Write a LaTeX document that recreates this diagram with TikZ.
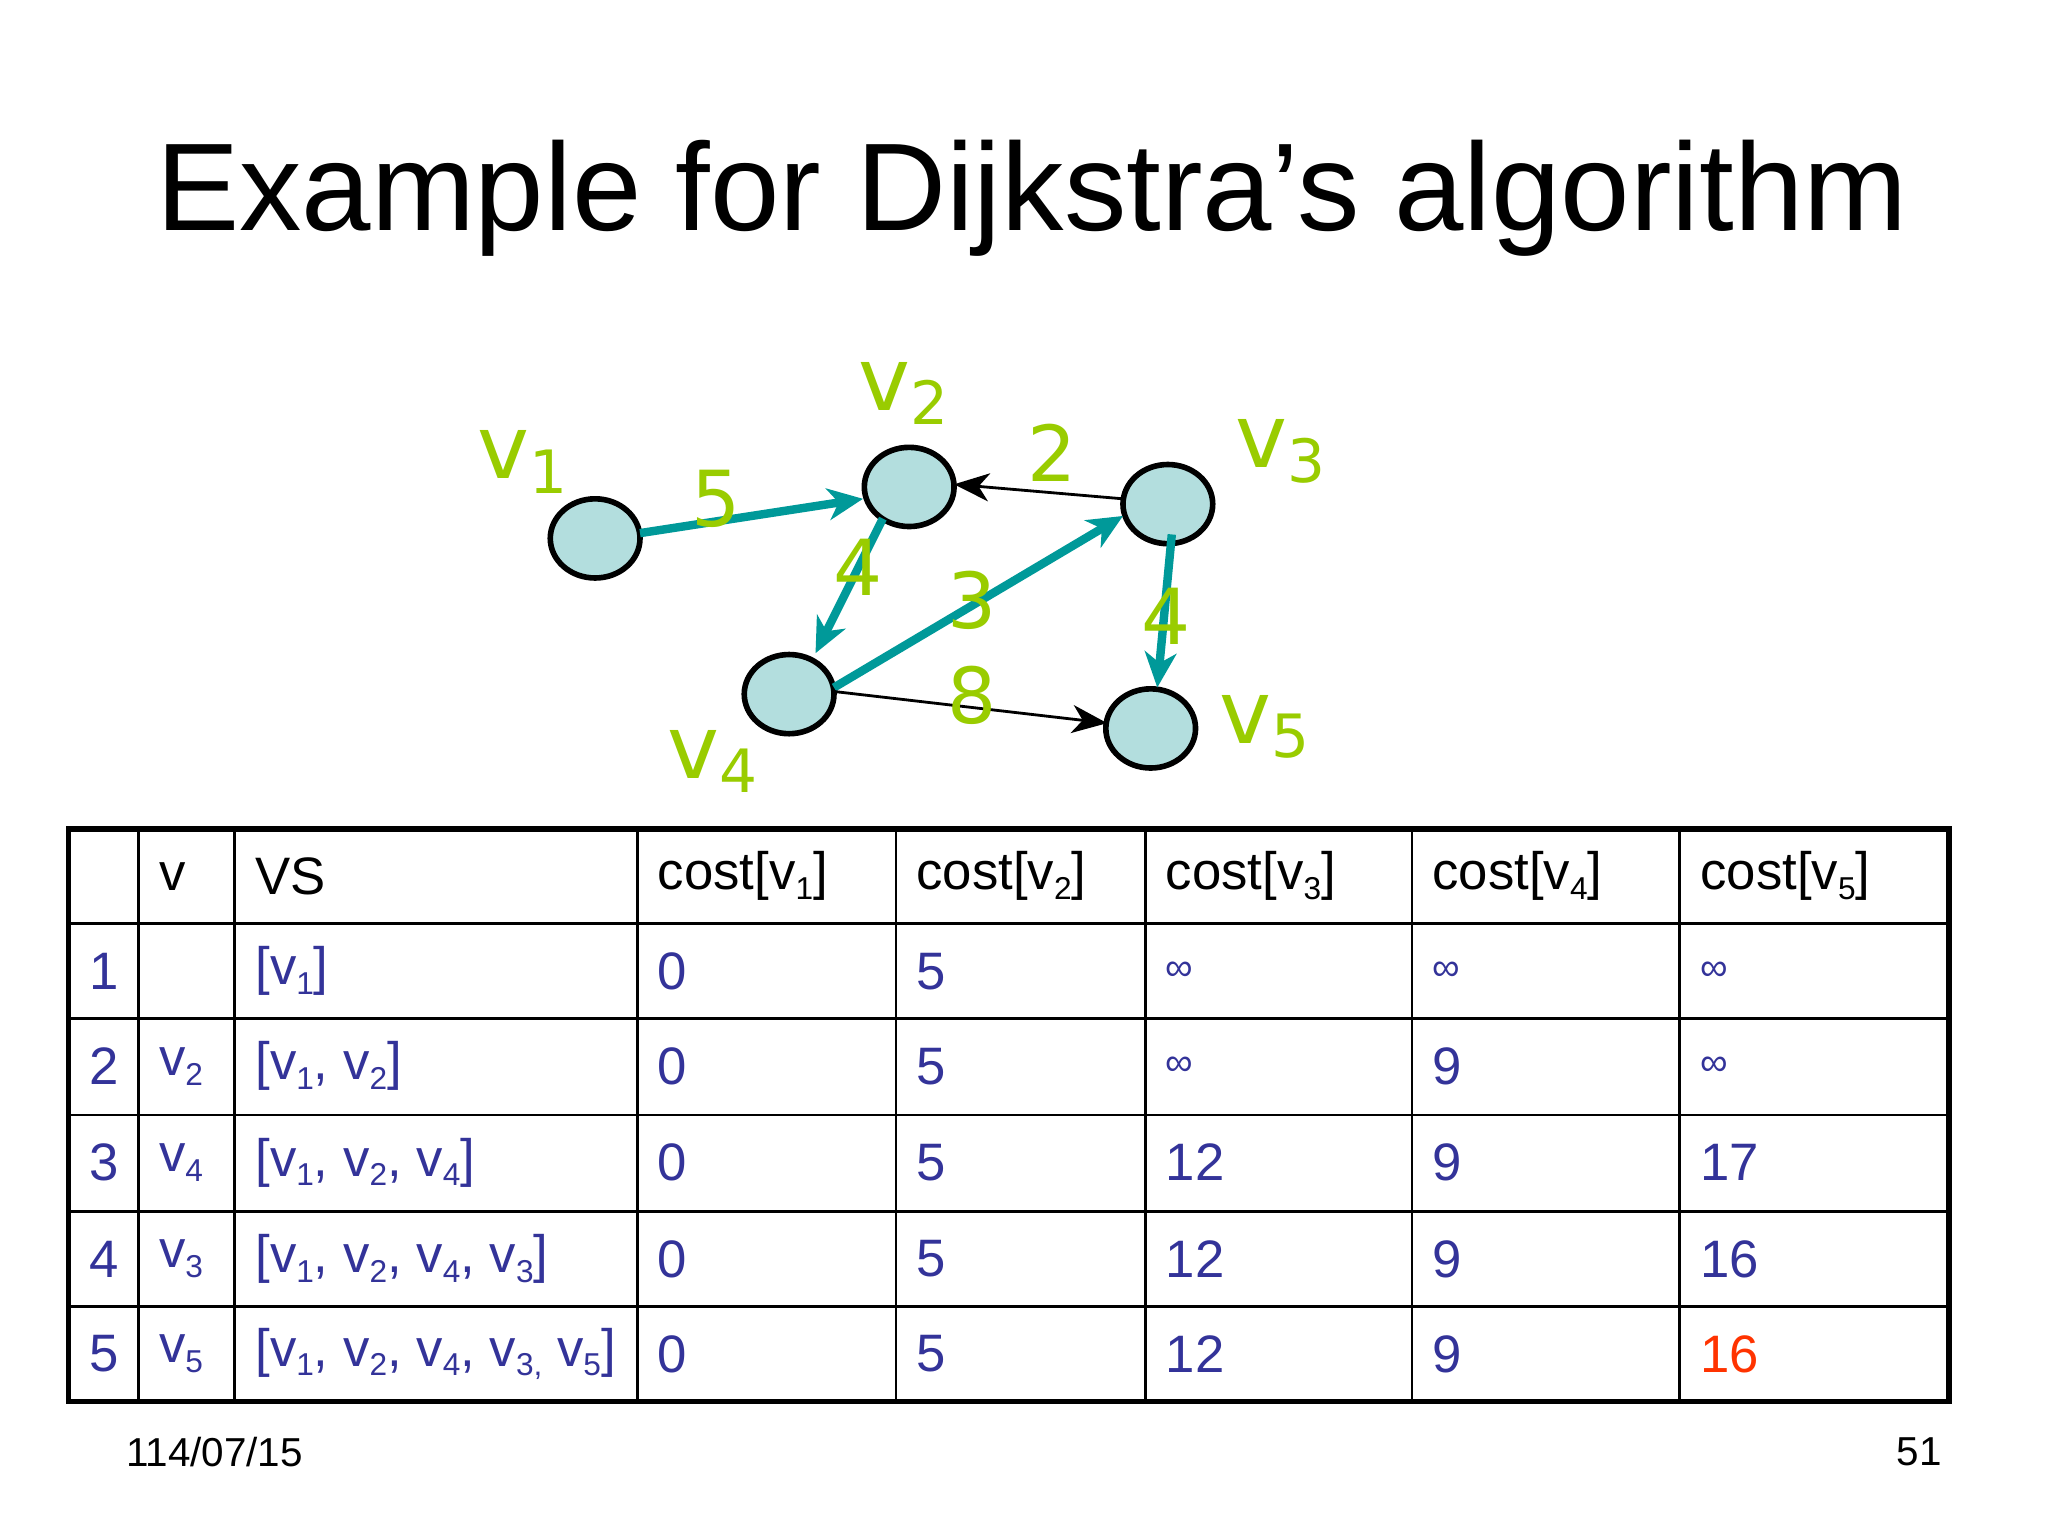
\documentclass[tikz,border=0pt]{standalone}
\usepackage{fontspec}
\setmainfont{Liberation Sans}
\newfontfamily\glab{DejaVu Sans}
\usetikzlibrary{arrows.meta,shapes.geometric,calc}
\definecolor{lime}{HTML}{99CC00}
\definecolor{teal2}{HTML}{009999}
\definecolor{fillc}{HTML}{B3DEDE}
\definecolor{blu}{HTML}{333399}
\definecolor{rd}{HTML}{FF3300}
\newlength{\px}\setlength{\px}{0.0132cm}
\newcommand{\sbx}[1]{\raisebox{-0.35ex}{\fontsize{9pt}{9pt}\selectfont #1}}
\newcommand{\gsb}[1]{\raisebox{-0.3ex}{\fontsize{17pt}{17pt}\selectfont #1}}
\tikzset{
 vert/.style={ellipse,draw=black,line width=1.6pt,fill=fillc,minimum width=68\px,minimum height=60\px,inner sep=0},
 vlab/.style={text=lime,font=\glab\fontsize{25pt}{25pt}\selectfont,inner sep=0},
 wlab/.style={text=lime,font=\glab\fontsize{22pt}{22pt}\selectfont,inner sep=0},
 tedge/.style={draw=teal2,line width=2.4pt,-{Stealth[length=10pt,width=9pt,inset=3pt]}},
 bedge/.style={draw=black,line width=0.8pt,-{Stealth[length=10pt,width=8pt,inset=3pt]}},
 cellh/.style={anchor=west,inner sep=0,font=\fontsize{15pt}{15pt}\selectfont},
 cellb/.style={cellh,text=blu},
}
\begin{document}
\begin{tikzpicture}[x=0.0132cm,y=-0.0132cm]
\useasboundingbox (0,0) rectangle (1552,1164);
\node[font=\fontsize{35.5pt}{36pt}\selectfont] (title) at (782,150) {Example for Dijkstra’s algorithm};
% graph
\node[vert] (v1) at (451,408) {};
\node[vert] (v2) at (689,369) {};
\node[vert] (v3) at (885,382) {};
\node[vert] (v4) at (598,526) {};
\node[vert] (v5) at (872,552) {};
\node[vlab] (l1) at (396,350) {v\gsb{1}};
\node[vlab] (l2) at (685,298) {v\gsb{2}};
\node[vlab] (l3) at (970,342) {v\gsb{3}};
\node[vlab] (l4) at (540,577) {v\gsb{4}};
\node[vlab] (l5) at (958,551) {v\gsb{5}};
\coordinate (a1) at (485,404); \coordinate (b1) at (654,378);
\coordinate (a2) at (851,378); \coordinate (b2) at (723,367);
\coordinate (a3) at (669,393); \coordinate (b3) at (618,495);
\coordinate (a4) at (632,521); \coordinate (b4) at (851,391);
\coordinate (a5) at (888,405); \coordinate (b5) at (877,521);
\coordinate (a6) at (632,524); \coordinate (b6) at (839,548);
\draw[tedge] (a1) -- (b1);
\draw[bedge] (a2) -- (b2);
\draw[tedge] (a3) -- (b3);
\draw[tedge] (a4) -- (b4);
\draw[tedge] (a5) -- (b5);
\draw[bedge] (a6) -- (b6);
\node[wlab] (w1) at (543,378) {5};
\node[wlab] (w2) at (797,343) {2};
\node[wlab] (w3) at (650,430) {4};
\node[wlab] (w4) at (737,455) {3};
\node[wlab] (w5) at (884,467) {4};
\node[wlab] (w6) at (737,527) {8};
% table
\draw[line width=1.6pt] (52,628) rectangle (1477,1062);
\foreach \y in {700,772,845,918,990} \draw[line width=0.8pt] (52,\y) -- (1477,\y);
\foreach \x in {105,178,483,679,868,1070,1273} \draw[line width=0.8pt] (\x,628) -- (\x,1062);
% header
\node[cellh] (h1) at (120,664) {v};
\node[cellh] (h2) at (193,664) {VS};
\node[cellh] (h3) at (498,664) {cost[v\sbx{1}]};
\node[cellh] (h4) at (694,664) {cost[v\sbx{2}]};
\node[cellh] (h5) at (883,664) {cost[v\sbx{3}]};
\node[cellh] (h6) at (1085,664) {cost[v\sbx{4}]};
\node[cellh] (h7) at (1288,664) {cost[v\sbx{5}]};
% rows
\node[cellb] (r1a) at (67,736) {1};
\node[cellb] (r1c) at (193,736) {[v\sbx{1}]};
\node[cellb] (r1d) at (498,736) {0};
\node[cellb] (r1e) at (694,736) {5};
\node[cellb,font=\fontsize{11pt}{11pt}\selectfont] (r1f) at (883,736) {∞};
\node[cellb,font=\fontsize{11pt}{11pt}\selectfont] (r1g) at (1085,736) {∞};
\node[cellb,font=\fontsize{11pt}{11pt}\selectfont] (r1h) at (1288,736) {∞};
\node[cellb] (r2a) at (67,808) {2};
\node[cellb] (r2b) at (120,808) {v\sbx{2}};
\node[cellb] (r2c) at (193,808) {[v\sbx{1}, v\sbx{2}]};
\node[cellb] (r2d) at (498,808) {0};
\node[cellb] (r2e) at (694,808) {5};
\node[cellb,font=\fontsize{11pt}{11pt}\selectfont] (r2f) at (883,808) {∞};
\node[cellb] (r2g) at (1085,808) {9};
\node[cellb,font=\fontsize{11pt}{11pt}\selectfont] (r2h) at (1288,808) {∞};
\node[cellb] (r3a) at (67,881) {3};
\node[cellb] (r3b) at (120,881) {v\sbx{4}};
\node[cellb] (r3c) at (193,881) {[v\sbx{1}, v\sbx{2}, v\sbx{4}]};
\node[cellb] (r3d) at (498,881) {0};
\node[cellb] (r3e) at (694,881) {5};
\node[cellb] (r3f) at (883,881) {12};
\node[cellb] (r3g) at (1085,881) {9};
\node[cellb] (r3h) at (1288,881) {17};
\node[cellb] (r4a) at (67,954) {4};
\node[cellb] (r4b) at (120,954) {v\sbx{3}};
\node[cellb] (r4c) at (193,954) {[v\sbx{1}, v\sbx{2}, v\sbx{4}, v\sbx{3}]};
\node[cellb] (r4d) at (498,954) {0};
\node[cellb] (r4e) at (694,954) {5};
\node[cellb] (r4f) at (883,954) {12};
\node[cellb] (r4g) at (1085,954) {9};
\node[cellb] (r4h) at (1288,954) {16};
\node[cellb] (r5a) at (67,1026) {5};
\node[cellb] (r5b) at (120,1026) {v\sbx{5}};
\node[cellb] (r5c) at (193,1026) {[v\sbx{1}, v\sbx{2}, v\sbx{4}, v\sbx{3,} v\sbx{5}]};
\node[cellb] (r5d) at (498,1026) {0};
\node[cellb] (r5e) at (694,1026) {5};
\node[cellb] (r5f) at (883,1026) {12};
\node[cellb] (r5g) at (1085,1026) {9};
\node[cellb,text=rd] (r5h) at (1288,1026) {16};
% footer
\node[anchor=west,inner sep=0,font=\fontsize{11.5pt}{12pt}\selectfont] (date) at (95,1100) {114/07/15};
\node[anchor=east,inner sep=0,font=\fontsize{11.5pt}{12pt}\selectfont] (page) at (1472,1100) {51};
\end{tikzpicture}
\end{document}
